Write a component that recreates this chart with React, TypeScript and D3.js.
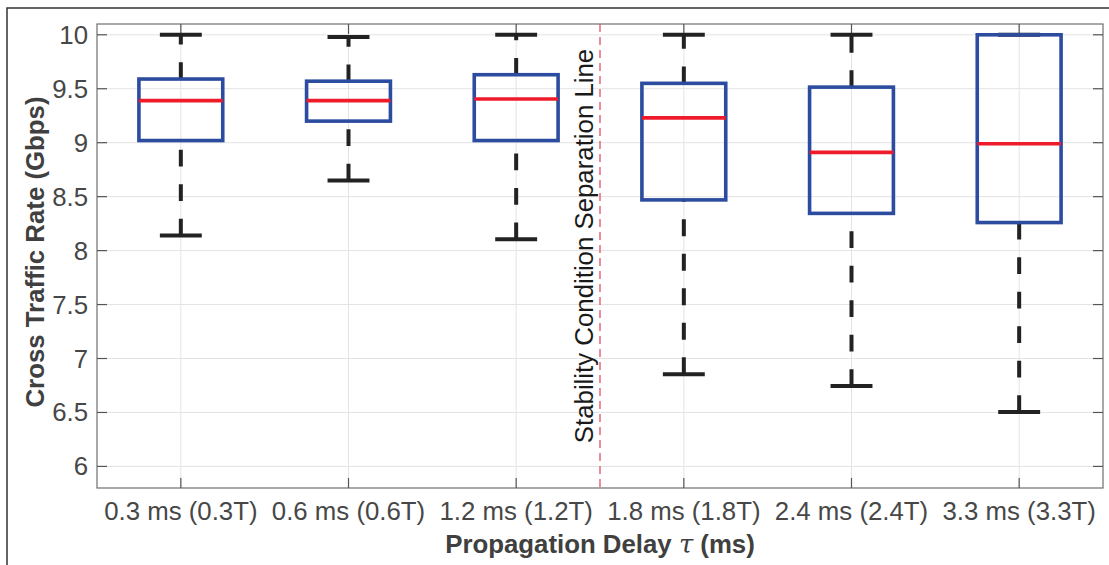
import React from 'react';
import * as d3 from 'd3';

// propagation delay groups
const categories = ['0.3 ms (0.3T)', '0.6 ms (0.6T)', '1.2 ms (1.2T)', '1.8 ms (1.8T)', '2.4 ms (2.4T)', '3.3 ms (3.3T)'];
// box stats, Gbps
const whiskerLow = [8.14, 8.65, 8.105, 6.855, 6.745, 6.505];
const q1 = [9.02, 9.2, 9.02, 8.47, 8.345, 8.26];
const medians = [9.39, 9.39, 9.405, 9.23, 8.91, 8.99];
const q3 = [9.59, 9.57, 9.63, 9.55, 9.515, 10.0];
const whiskerHigh = [10.0, 9.98, 10.0, 10.0, 10.0, 10.0];
const yTicks = [6, 6.5, 7, 7.5, 8, 8.5, 9, 9.5, 10];

const W = 1109;
const H = 565;
const font = '"Liberation Sans", Arial, Helvetica, sans-serif';
const fs = 25.8;

const App = () => {
  const left = 97, right = 1103, top = 24, bottom = 488;

  const x = d3.scaleBand().domain(categories).range([left, right]).padding(0);
  const y = d3.scaleLinear().domain([5.8, 10.1]).range([bottom, top]);
  const bw = x.bandwidth();
  const cx = (c: string) => (x(c) as number) + bw / 2;
  const sepX = (x(categories[3]) as number);

  return (
    <div style={{ position: 'absolute', left: 0, top: 0 }}>
      <svg width={W} height={H} style={{ display: 'block', background: '#fff' }} fontFamily={font}>
        {/* figure frame */}
        <path d={`M7,${H} V8 H${W}`} fill="none" stroke="#333" strokeWidth={1.5} />

        {/* grid */}
        {yTicks.map(t => (
          <line key={'gy' + t} x1={left} x2={right} y1={y(t)} y2={y(t)} stroke="#e3e3e3" strokeWidth={1} />
        ))}
        {categories.map(c => (
          <line key={'gx' + c} x1={cx(c)} x2={cx(c)} y1={top} y2={bottom} stroke="#e3e3e3" strokeWidth={1} />
        ))}

        {/* axes box + ticks */}
        <rect x={left} y={top} width={right - left} height={bottom - top} fill="none" stroke="#7a7a7a" strokeWidth={1.3} />
        {yTicks.map(t => (
          <g key={'ty' + t}>
            <line x1={left} x2={left + 10} y1={y(t)} y2={y(t)} stroke="#555" strokeWidth={1.2} />
            <line x1={right - 10} x2={right} y1={y(t)} y2={y(t)} stroke="#555" strokeWidth={1.2} />
            <text x={left - 9} y={y(t)} textAnchor="end" dominantBaseline="central" fontSize={fs} fill="#474747">
              {d3.format('~g')(t)}
            </text>
          </g>
        ))}
        {categories.map(c => (
          <g key={'tx' + c}>
            <line x1={cx(c)} x2={cx(c)} y1={bottom} y2={bottom - 10} stroke="#555" strokeWidth={1.2} />
            <line x1={cx(c)} x2={cx(c)} y1={top} y2={top + 10} stroke="#555" strokeWidth={1.2} />
            <text x={cx(c)} y={520} textAnchor="middle" fontSize={fs} fill="#474747">{c}</text>
          </g>
        ))}

        {/* stability separation line */}
        <line x1={sepX} x2={sepX} y1={top} y2={bottom} stroke="#e0506a" strokeWidth={1.3} strokeDasharray="8 5" />
        <text transform={`translate(${sepX - 7},246) rotate(-90)`} textAnchor="middle" fontSize={fs} fill="#1a1a1a">
          Stability Condition Separation Line
        </text>

        {/* boxes */}
        {categories.map((c, i) => {
          const m = cx(c);
          return (
            <g key={'b' + c}>
              <line x1={m} x2={m} y1={y(whiskerLow[i])} y2={y(q1[i])} stroke="#222" strokeWidth={4} strokeDasharray="16.8 17.7" />
              <line x1={m} x2={m} y1={y(q3[i])} y2={y(whiskerHigh[i])} stroke="#222" strokeWidth={4} strokeDasharray="16.8 17.7" />
              <line x1={m - bw / 8} x2={m + bw / 8} y1={y(whiskerLow[i])} y2={y(whiskerLow[i])} stroke="#222" strokeWidth={4} />
              <line x1={m - bw / 8} x2={m + bw / 8} y1={y(whiskerHigh[i])} y2={y(whiskerHigh[i])} stroke="#222" strokeWidth={4} />
              <rect x={m - bw / 4} y={y(q3[i])} width={bw / 2} height={y(q1[i]) - y(q3[i])} fill="none" stroke="#2c4c9f" strokeWidth={3.6} />
              <line x1={m - bw / 4} x2={m + bw / 4} y1={y(medians[i])} y2={y(medians[i])} stroke="#ee1c2a" strokeWidth={3.6} />
            </g>
          );
        })}

        {/* axis labels */}
        <text transform={`translate(44,252) rotate(-90)`} textAnchor="middle" fontSize={fs} fontWeight="bold" fill="#404040">
          Cross Traffic Rate (Gbps)
        </text>
        <text x={600} y={553} textAnchor="middle" fontSize={fs} fontWeight="bold" fill="#404040">
          Propagation Delay <tspan fontFamily='"DejaVu Serif", "Liberation Serif", serif' fontStyle="italic" fontWeight="normal">τ</tspan> (ms)
        </text>
      </svg>
    </div>
  );
};

export default App;
